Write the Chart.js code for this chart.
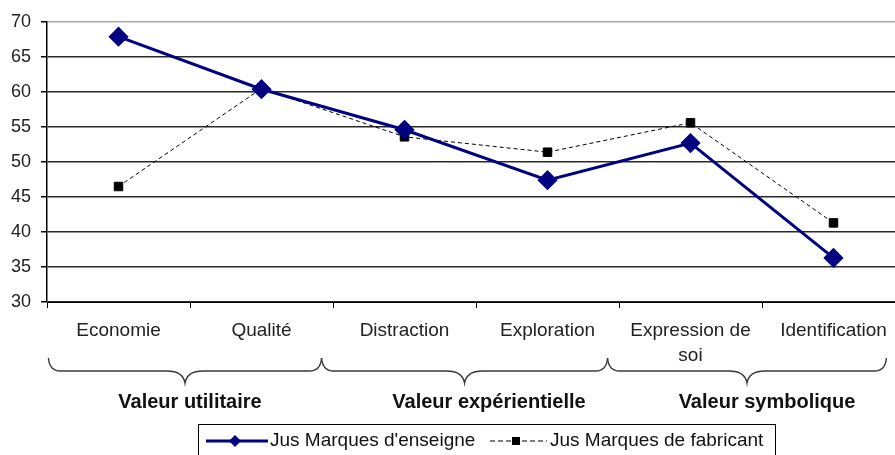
<!DOCTYPE html>
<html>
<head>
<meta charset="utf-8">
<script src="https://cdn.jsdelivr.net/npm/chart.js@4"></script>
<style>
  html, body { margin: 0; background: #fff; overflow: hidden; }
  canvas { display: block; }
</style>
</head>
<body>
<canvas id="chart" width="905" height="455"></canvas>
<script>
const categories = ["Economie", "Qualité", "Distraction", "Exploration", ["Expression de", "soi"], "Identification"];
const enseigne = [67.9, 60.4, 54.6, 47.4, 52.7, 36.3];
const fabricant = [46.5, 60.5, 53.6, 51.4, 55.6, 41.3];
const groupLabels = ["Valeur utilitaire", "Valeur expérientielle", "Valeur symbolique"];
const groupIdx = [[0, 1], [2, 3], [4, 5]];
const yMin = 30, yMax = 70, yStep = 5;

const FONT = "'Liberation Sans', Arial, sans-serif";

// accolades + libellés de groupe + légende
const decor = {
  id: "decor",
  afterDraw(chart) {
    const ctx = chart.ctx;
    const xs = chart.scales.x;
    const px = (v) => xs.getPixelForValue(v);
    const nudge = [0, 13, 5];

    ctx.save();
    ctx.strokeStyle = "#383838";
    ctx.lineWidth = 1.4;
    const y0 = 358, y1 = 371, y2 = 383, rEnd = 12, rTip = 18;
    groupIdx.forEach((g, i) => {
      const x0 = px(g[0] - (i === 0 ? 0.49 : 0.58));
      const x1 = px(g[1] + (i === groupIdx.length - 1 ? 0.37 : 0.42));
      const xm = (x0 + x1) / 2;
      ctx.beginPath();
      ctx.moveTo(x0, y0);
      ctx.quadraticCurveTo(x0 + 1, y1, x0 + rEnd, y1);
      ctx.lineTo(xm - rTip, y1);
      ctx.quadraticCurveTo(xm - 2, y1, xm, y2);
      ctx.quadraticCurveTo(xm + 2, y1, xm + rTip, y1);
      ctx.lineTo(x1 - rEnd, y1);
      ctx.quadraticCurveTo(x1 - 1, y1, x1, y0);
      ctx.stroke();

      ctx.fillStyle = "#111";
      ctx.font = "bold 20px " + FONT;
      ctx.textAlign = "center";
      ctx.textBaseline = "middle";
      ctx.fillText(groupLabels[i], px((g[0] + g[1]) / 2) + nudge[i], 402);
    });

    // légende
    const ds = chart.data.datasets;
    ctx.lineWidth = 1;
    ctx.strokeStyle = "#000";
    ctx.strokeRect(198.5, 424.5, 577, 40);
    const ly = 441;
    ctx.font = "19px " + FONT;
    ctx.textAlign = "left";
    ctx.textBaseline = "middle";

    ctx.beginPath();
    ctx.strokeStyle = ds[0].borderColor;
    ctx.lineWidth = 3;
    ctx.moveTo(206, ly);
    ctx.lineTo(268, ly);
    ctx.stroke();
    ctx.fillStyle = ds[0].pointBackgroundColor;
    ctx.beginPath();
    ctx.moveTo(235, ly - 6);
    ctx.lineTo(241, ly);
    ctx.lineTo(235, ly + 6);
    ctx.lineTo(229, ly);
    ctx.closePath();
    ctx.fill();
    ctx.fillStyle = "#111";
    ctx.fillText(ds[0].label, 270, ly);

    ctx.beginPath();
    ctx.strokeStyle = "#000";
    ctx.lineWidth = 1;
    ctx.setLineDash([5, 3]);
    ctx.moveTo(490, ly);
    ctx.lineTo(547, ly);
    ctx.stroke();
    ctx.setLineDash([]);
    ctx.fillStyle = "#000";
    ctx.fillRect(512, ly - 4, 8, 8);
    ctx.fillStyle = "#111";
    ctx.fillText(ds[1].label, 550, ly);
    ctx.restore();
  },
};

new Chart(document.getElementById("chart"), {
  type: "line",
  data: {
    labels: categories,
    datasets: [
      {
        label: "Jus Marques d'enseigne",
        data: enseigne,
        borderColor: "#000080",
        backgroundColor: "#000080",
        pointBackgroundColor: "#000080",
        pointBorderColor: "#000080",
        borderWidth: 3,
        pointStyle: "rectRot",
        pointRadius: 8,
        tension: 0,
      },
      {
        label: "Jus Marques de fabricant",
        data: fabricant,
        borderColor: "#000",
        backgroundColor: "#000",
        pointBackgroundColor: "#000",
        pointBorderColor: "#000",
        borderWidth: 1,
        borderDash: [4, 3],
        pointStyle: "rect",
        pointRadius: 6,
        tension: 0,
      },
    ],
  },
  options: {
    responsive: false,
    animation: false,
    layout: { autoPadding: false, padding: { top: 22, right: 0, left: 0, bottom: 0 } },
    plugins: {
      legend: { display: false },
      tooltip: { enabled: false },
    },
    scales: {
      x: {
        offset: true,
        grid: {
          offset: true,
          drawOnChartArea: false,
          drawTicks: true,
          tickLength: 6,
          tickColor: "#000",
        },
        border: { color: "#000", width: 1 },
        ticks: {
          color: "#222",
          padding: 10,
          maxRotation: 0,
          autoSkip: false,
          font: { family: FONT, size: 19, lineHeight: 1.32 },
        },
        afterFit(scale) {
          scale.height = 153;
        },
      },
      y: {
        min: yMin,
        max: yMax,
        ticks: {
          stepSize: yStep,
          color: "#222",
          padding: 10,
          font: { family: FONT, size: 18 },
        },
        grid: {
          color: (c) => (c.tick && c.tick.value === yMax ? "#a8a8a8" : "#2a2a2a"),
          lineWidth: 1.5,
          tickLength: 6,
          tickColor: "#000",
        },
        border: { color: "#000", width: 1.5 },
        afterFit(scale) {
          scale.width = 47;
        },
      },
    },
  },
  plugins: [decor],
});
</script>
</body>
</html>
